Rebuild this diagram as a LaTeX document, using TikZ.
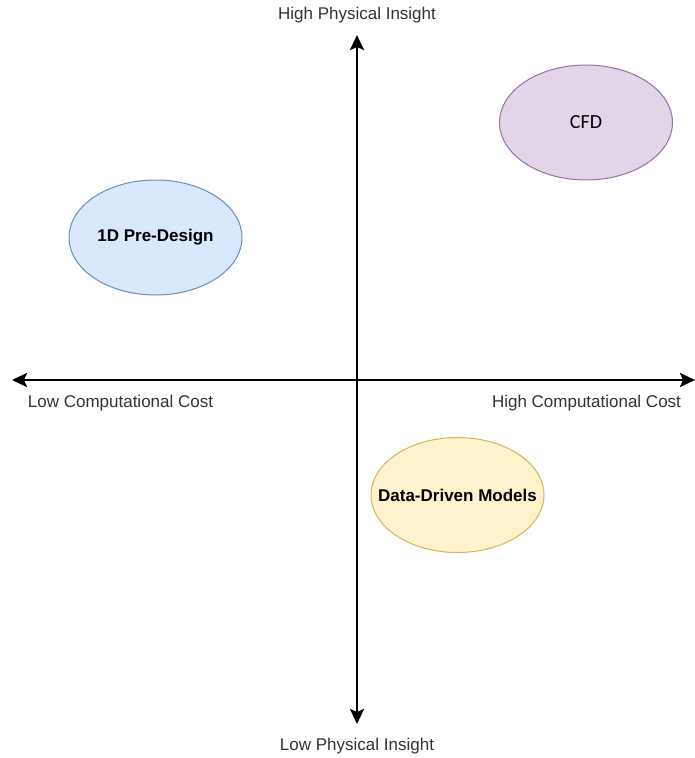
\documentclass[tikz,border=0pt]{standalone}
\usepackage{fontspec}
\setmainfont{Liberation Sans}
\newfontfamily\calib{Carlito}
\usetikzlibrary{arrows.meta,shapes.geometric}
\definecolor{bluefill}{HTML}{DAE8FC}
\definecolor{bluedraw}{HTML}{6C8EBF}
\definecolor{purpfill}{HTML}{E1D5E7}
\definecolor{purpdraw}{HTML}{9673A6}
\definecolor{yelfill}{HTML}{FFF2CC}
\definecolor{yeldraw}{HTML}{D6B656}
\definecolor{labgray}{HTML}{333333}
\begin{document}
\begin{tikzpicture}[x=1pt,y=-1pt,
  axis/.style={line width=2.5pt,-{Stealth[length=15pt,width=14pt,inset=3pt]}},
  axlabel/.style={text=labgray,font=\fontsize{17}{19}\selectfont,inner sep=0pt,anchor=base},
  blob/.style={ellipse,line width=1pt,minimum width=173pt,minimum height=115pt,inner sep=0pt,font=\fontsize{17}{19}\selectfont\bfseries}]
\useasboundingbox[fill=white] (0,0) rectangle (694,758);
\coordinate (c) at (357,380);
\coordinate (left) at (12,380);
\coordinate (right) at (695,380);
\coordinate (top) at (357,35);
\coordinate (bot) at (357,724);
\draw[axis] (c) -- (left);
\draw[axis] (c) -- (right);
\draw[axis] (c) -- (top);
\draw[axis] (c) -- (bot);
\node[axlabel] (hpi) at (357,19) {High Physical Insight};
\node[axlabel] (lpi) at (357,750) {Low Physical Insight};
\node[axlabel] (lcc) at (120.5,407) {Low Computational Cost};
\node[axlabel] (hcc) at (586.5,407) {High Computational Cost};
\node[blob,fill=bluefill,draw=bluedraw] (pre) at (155.5,237.5) {\makebox[0pt]{1D Pre-Design}};
\node[blob,fill=purpfill,draw=purpdraw,font=\fontsize{20}{22}\selectfont\calib] (cfd) at (586,122.5) {\makebox[0pt]{CFD}};
\node[blob,fill=yelfill,draw=yeldraw] (ddm) at (457.5,495) {\makebox[0pt]{Data-Driven Models}};
\end{tikzpicture}
\end{document}
